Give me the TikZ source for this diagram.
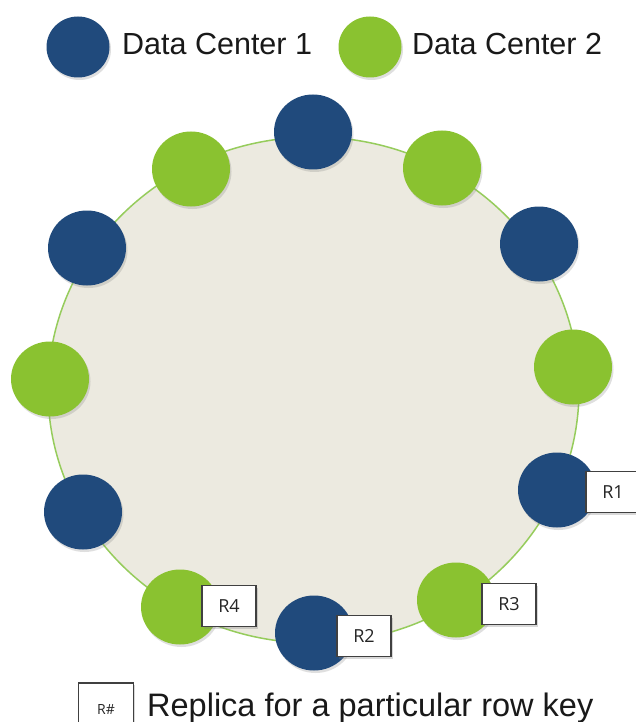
\documentclass[tikz,border=0pt]{standalone}
\usepackage{fontspec}
\setmainfont{Liberation Sans}
\newfontfamily\rfont{Open Sans}
\usetikzlibrary{shapes.geometric,shadows}
\definecolor{dcblue}{RGB}{32,74,124}
\definecolor{dcgreen}{RGB}{138,194,48}
\definecolor{ringfill}{RGB}{236,234,224}
\definecolor{ringline}{RGB}{150,204,92}
\tikzset{
  nodebase/.style={ellipse, inner sep=0pt, minimum width=78pt, minimum height=75pt,
    drop shadow={opacity=0.25, shadow xshift=1.5pt, shadow yshift=-2.5pt}},
  dcone/.style={nodebase, fill=dcblue},
  dctwo/.style={nodebase, fill=dcgreen},
  legdot/.style={ellipse, inner sep=0pt, minimum width=63pt, minimum height=61pt,
    drop shadow={opacity=0.25, shadow xshift=1.5pt, shadow yshift=-2.5pt}},
  replica/.style={draw=black!75, line width=1.2pt, fill=white, inner sep=0pt,
    minimum width=54pt, minimum height=41pt, font=\rfont\fontsize{18}{21}\selectfont,
    text=black!85,
    drop shadow={opacity=0.3, shadow xshift=1.5pt, shadow yshift=-2pt}},
  legtext/.style={anchor=base west, inner sep=0pt, font=\fontsize{30.5}{36}\selectfont, text=black!90}
}
\begin{document}
\begin{tikzpicture}[x=1pt,y=-1pt]
\useasboundingbox[fill=white] (0,0) rectangle (635,722);
% legend
\node[legdot, fill=dcblue] (l1) at (78,47) {};
\node[legtext] (t1) at (122,55) {Data Center 1};
\node[legdot, fill=dcgreen] (l2) at (370,47) {};
\node[legtext] (t2) at (412,55) {Data Center 2};
% ring
\node[ellipse, draw=ringline, line width=1.5pt, fill=ringfill, inner sep=0pt,
  minimum width=531pt, minimum height=506pt] (ring) at (313.5,390) {};
% data center nodes
\node[dcone] (n1) at (313,132) {};
\node[dctwo] (n2) at (191,169) {};
\node[dcone] (n3) at (87,248) {};
\node[dctwo] (n4) at (50,379) {};
\node[dcone] (n5) at (83,512) {};
\node[dctwo] (n6) at (180,607) {};
\node[dcone] (n7) at (314,633) {};
\node[dctwo] (n8) at (456,600) {};
\node[dcone] (n9) at (557,490) {};
\node[dctwo] (n10) at (573,367) {};
\node[dcone] (n11) at (539,244) {};
\node[dctwo] (n12) at (442,168) {};
% replica boxes
\node[replica] (r1) at (613,492) {R1};
\node[replica] (r2) at (364,636) {R2};
\node[replica] (r3) at (509,604) {R3};
\node[replica] (r4) at (229,606) {R4};
% bottom legend
\node[replica, minimum width=55pt, minimum height=52pt, font=\rfont\fontsize{14}{16}\selectfont] (rl) at (106,709) {R\#};
\node[legtext, font=\fontsize{32.5}{38}\selectfont] (tl) at (147,716) {Replica for a particular row key};
\end{tikzpicture}
\end{document}
